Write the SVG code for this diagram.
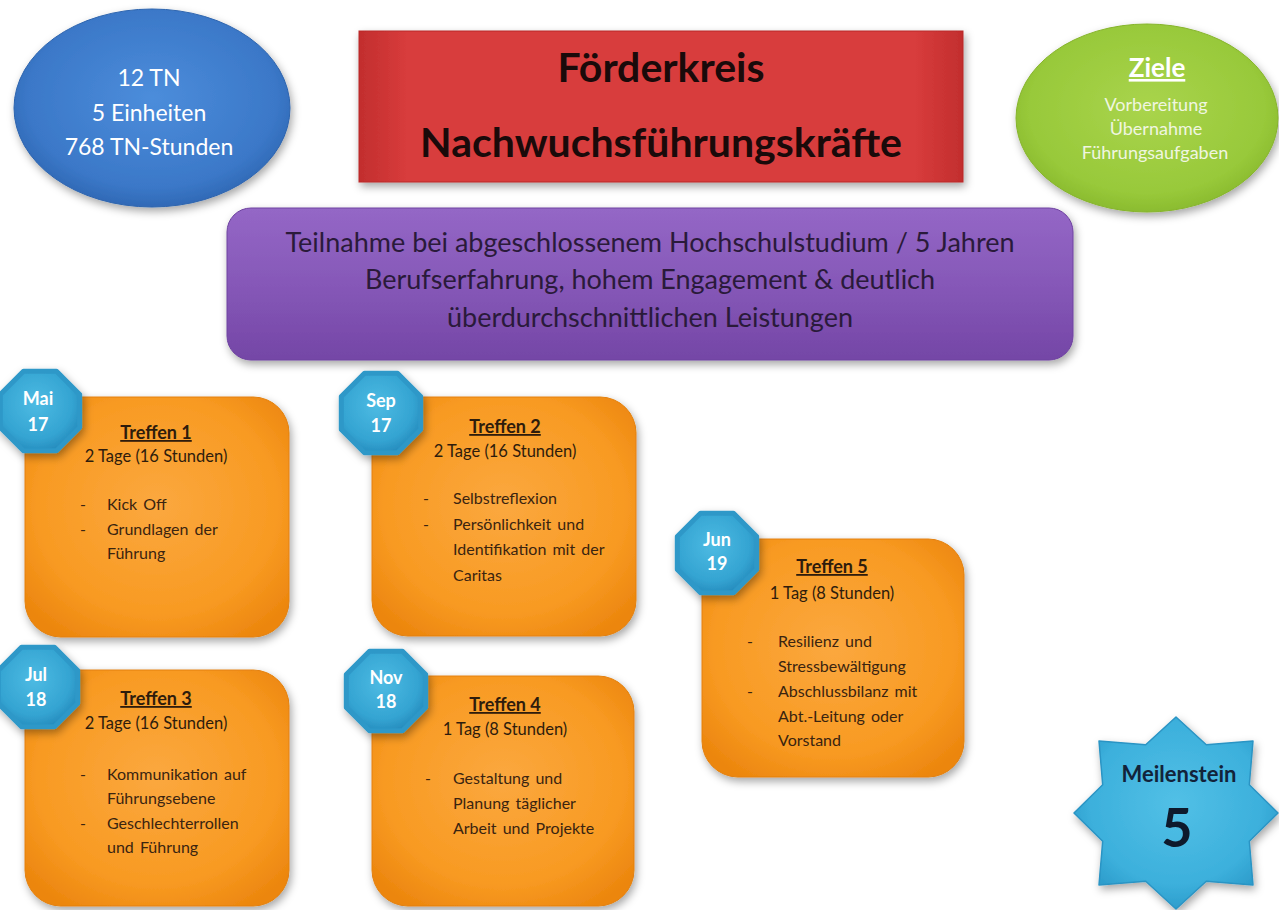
<svg xmlns="http://www.w3.org/2000/svg" xmlns:xlink="http://www.w3.org/1999/xlink" width="1279" height="910" viewBox="0 0 1279 910">
<defs>
<filter id="sh" x="-20%" y="-20%" width="140%" height="140%">
<feDropShadow dx="2" dy="4" stdDeviation="4" flood-color="#000" flood-opacity="0.35"/>
</filter>
<radialGradient id="gOrange" cx="50%" cy="45%" r="65%">
<stop offset="0" stop-color="#fba83f"/>
<stop offset="0.7" stop-color="#f89a22"/>
<stop offset="1" stop-color="#ec860e"/>
</radialGradient>
<radialGradient id="gBlue" cx="50%" cy="45%" r="60%">
<stop offset="0" stop-color="#4c8ddb"/>
<stop offset="0.75" stop-color="#3b78c8"/>
<stop offset="1" stop-color="#2b62ad"/>
</radialGradient>
<linearGradient id="gRed" x1="0" y1="0" x2="1" y2="0">
<stop offset="0" stop-color="#c22e2e"/>
<stop offset="0.08" stop-color="#d83c3c"/>
<stop offset="0.92" stop-color="#d83c3c"/>
<stop offset="1" stop-color="#c22e2e"/>
</linearGradient>
<radialGradient id="gGreen" cx="50%" cy="45%" r="60%">
<stop offset="0" stop-color="#a9d44c"/>
<stop offset="0.75" stop-color="#98c93a"/>
<stop offset="1" stop-color="#84b52a"/>
</radialGradient>
<linearGradient id="gPurple" x1="0" y1="0" x2="0" y2="1">
<stop offset="0" stop-color="#9467c6"/>
<stop offset="0.5" stop-color="#8658b8"/>
<stop offset="1" stop-color="#7446a6"/>
</linearGradient>
<radialGradient id="gBadge" cx="45%" cy="40%" r="65%">
<stop offset="0" stop-color="#4dbbe3"/>
<stop offset="0.7" stop-color="#34a4d2"/>
<stop offset="1" stop-color="#2488ba"/>
</radialGradient>
<radialGradient id="gStar" cx="50%" cy="45%" r="60%">
<stop offset="0" stop-color="#52c0e6"/>
<stop offset="0.7" stop-color="#3cb0dc"/>
<stop offset="1" stop-color="#2896c6"/>
</radialGradient>
<polygon id="oct" points="39.7,16.5 16.5,39.7 -16.5,39.7 -39.7,16.5 -39.7,-16.5 -16.5,-39.7 16.5,-39.7 39.7,-16.5"/>
<style>
text { font-family: Lato, "Open Sans", "Liberation Sans", sans-serif; }
.box { fill: url(#gOrange); stroke: #e3800f; stroke-width: 1; filter: url(#sh); }
.badge { fill: url(#gBadge); stroke: #2e98c8; stroke-width: 5; stroke-linejoin: round; filter: url(#sh); }
.bt { fill: #ffffff; font-weight: bold; font-size: 18px; text-anchor: middle; }
.tt { fill: #2e1c0c; font-weight: bold; font-size: 18px; text-anchor: middle; text-decoration: underline; }
.sub { fill: #2e1c0c; font-size: 16.5px; text-anchor: middle; }
.li { fill: #3a2410; font-size: 16px; word-spacing: 2px; }
.white { fill: #ffffff; text-anchor: middle; }
.pt { fill: #2a1a3a; font-size: 27px; text-anchor: middle; }
.gt { fill: #f0f6e0; font-size: 18px; text-anchor: middle; }
</style>
</defs>
<rect width="1279" height="910" fill="#ffffff"/>

<g id="connectors"></g>

<g id="stats">
<ellipse cx="152" cy="108" rx="138" ry="99" fill="url(#gBlue)" stroke="#2d64ae" stroke-width="1" filter="url(#sh)"/>
<text class="white" x="149" y="86" font-size="23">12 TN</text>
<text class="white" x="149" y="121" font-size="23">5 Einheiten</text>
<text class="white" x="149" y="155" font-size="23">768 TN-Stunden</text>
</g>

<g id="title">
<rect x="359" y="31" width="604" height="151" fill="url(#gRed)" stroke="#b82a2a" stroke-width="1" filter="url(#sh)"/>
<text x="661" y="82" font-size="41" font-weight="bold" fill="#1a0a0a" text-anchor="middle">Förderkreis</text>
<text x="661" y="157" font-size="41" font-weight="bold" fill="#1a0a0a" text-anchor="middle">Nachwuchsführungskräfte</text>
</g>

<g id="ziele">
<ellipse cx="1147" cy="118" rx="131" ry="94" fill="url(#gGreen)" stroke="#86b42c" stroke-width="1" filter="url(#sh)"/>
<text class="white" x="1157" y="77" font-size="26" font-weight="bold" text-decoration="underline">Ziele</text>
<text class="gt" x="1156" y="111">Vorbereitung</text>
<text class="gt" x="1156" y="135">Übernahme</text>
<text class="gt" x="1155" y="159">Führungsaufgaben</text>
</g>

<g id="teilnahme">
<rect x="227" y="208" width="846" height="152" rx="24" fill="url(#gPurple)" stroke="#6e42a0" stroke-width="1" filter="url(#sh)"/>
<text class="pt" x="650" y="252">Teilnahme bei abgeschlossenem Hochschulstudium / 5 Jahren</text>
<text class="pt" x="650" y="289">Berufserfahrung, hohem Engagement &amp; deutlich</text>
<text class="pt" x="650" y="327">überdurchschnittlichen Leistungen</text>
</g>

<g id="treffen1">
<rect class="box" x="25" y="397" width="264" height="240" rx="36"/>
<use xlink:href="#oct" href="#oct" class="badge" transform="translate(40,411)"/>
<text class="bt" x="38" y="405">Mai</text>
<text class="bt" x="38" y="431">17</text>
<text class="tt" x="156" y="439">Treffen 1</text>
<text class="sub" x="156" y="462">2 Tage (16 Stunden)</text>
<text class="li" x="80" y="510">-</text><text class="li" x="107" y="510">Kick Off</text>
<text class="li" x="80" y="535">-</text><text class="li" x="107" y="535">Grundlagen der</text>
<text class="li" x="107" y="559">Führung</text>
</g>

<g id="treffen2">
<rect class="box" x="372" y="397" width="264" height="239" rx="36"/>
<use xlink:href="#oct" href="#oct" class="badge" transform="translate(381,413)"/>
<text class="bt" x="381" y="407">Sep</text>
<text class="bt" x="381" y="432">17</text>
<text class="tt" x="505" y="433">Treffen 2</text>
<text class="sub" x="505" y="457">2 Tage (16 Stunden)</text>
<text class="li" x="423" y="504">-</text><text class="li" x="453" y="504">Selbstreflexion</text>
<text class="li" x="423" y="530">-</text><text class="li" x="453" y="530">Persönlichkeit und</text>
<text class="li" x="453" y="555">Identifikation mit der</text>
<text class="li" x="453" y="581">Caritas</text>
</g>

<g id="treffen3">
<rect class="box" x="25" y="670" width="264" height="236" rx="36"/>
<use xlink:href="#oct" href="#oct" class="badge" transform="translate(38,687)"/>
<text class="bt" x="36" y="681">Jul</text>
<text class="bt" x="36" y="706">18</text>
<text class="tt" x="156" y="705">Treffen 3</text>
<text class="sub" x="156" y="729">2 Tage (16 Stunden)</text>
<text class="li" x="80" y="780">-</text><text class="li" x="107" y="780">Kommunikation auf</text>
<text class="li" x="107" y="804">Führungsebene</text>
<text class="li" x="80" y="829">-</text><text class="li" x="107" y="829">Geschlechterrollen</text>
<text class="li" x="107" y="853">und Führung</text>
</g>

<g id="treffen4">
<rect class="box" x="372" y="676" width="262" height="230" rx="36"/>
<use xlink:href="#oct" href="#oct" class="badge" transform="translate(386,691)"/>
<text class="bt" x="386" y="684">Nov</text>
<text class="bt" x="386" y="708">18</text>
<text class="tt" x="505" y="711">Treffen 4</text>
<text class="sub" x="505" y="735">1 Tag (8 Stunden)</text>
<text class="li" x="425" y="784">-</text><text class="li" x="453" y="784">Gestaltung und</text>
<text class="li" x="453" y="809">Planung täglicher</text>
<text class="li" x="453" y="834">Arbeit und Projekte</text>
</g>

<g id="treffen5">
<rect class="box" x="702" y="539" width="262" height="238" rx="36"/>
<use xlink:href="#oct" href="#oct" class="badge" transform="translate(717,553)"/>
<text class="bt" x="717" y="546">Jun</text>
<text class="bt" x="717" y="570">19</text>
<text class="tt" x="832" y="573">Treffen 5</text>
<text class="sub" x="832" y="599">1 Tag (8 Stunden)</text>
<text class="li" x="747" y="647">-</text><text class="li" x="778" y="647">Resilienz und</text>
<text class="li" x="778" y="672">Stressbewältigung</text>
<text class="li" x="747" y="697">-</text><text class="li" x="778" y="697">Abschlussbilanz mit</text>
<text class="li" x="778" y="722">Abt.-Leitung oder</text>
<text class="li" x="778" y="746">Vorstand</text>
</g>

<g id="meilenstein">
<polygon points="1176,717 1206.3,744.7 1253,741 1249.3,784.7 1278,813 1249.3,841.3 1253,885 1206.3,881.3 1176,909 1145.7,881.3 1099,885 1102.7,841.3 1074,813 1102.7,784.7 1099,741 1145.7,744.7" fill="url(#gStar)" stroke="#2a94c4" stroke-width="1.5" stroke-linejoin="round" filter="url(#sh)"/>
<text x="1179" y="782" font-size="22" font-weight="bold" fill="#12233a" text-anchor="middle">Meilenstein</text>
<text x="1177" y="847" font-size="54" font-weight="bold" fill="#0e1a2c" text-anchor="middle">5</text>
</g>
</svg>
